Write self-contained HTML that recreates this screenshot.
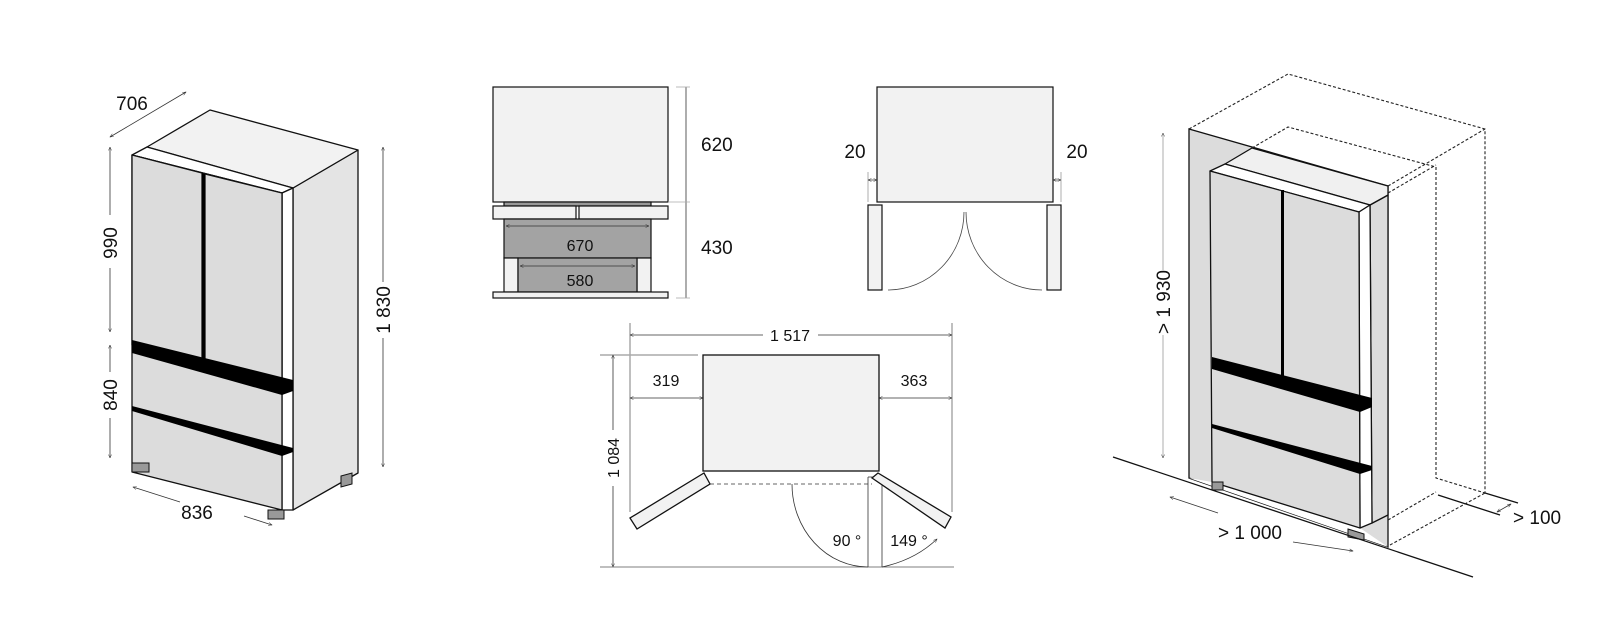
<!DOCTYPE html>
<html><head><meta charset="utf-8"><style>
html,body{margin:0;padding:0;background:#fff;}
svg{display:block;}
text{font-family:"Liberation Sans",sans-serif;fill:#111;}
</style></head><body>
<svg width="1600" height="644" viewBox="0 0 1600 644" xmlns="http://www.w3.org/2000/svg">
<defs>
<marker id="a" viewBox="0 0 10 10" refX="9" refY="5" markerWidth="5" markerHeight="5" orient="auto-start-reverse"><path d="M0,1 L9,5 L0,9" fill="none" stroke="#333" stroke-width="1.2"/></marker>
</defs>

<!-- ============ LEFT FRIDGE ============ -->
<g stroke="#111" stroke-width="1.3" stroke-linejoin="round">
<polygon points="293,188 358,150 358,473 293,510" fill="#e4e4e4"/>
<polygon points="147,147 210,110 358,150 293,188" fill="#f2f2f2"/>
<polygon points="132,155 147,147 293,188 282,193" fill="#fff"/>
<polygon points="282,193 293,188 293,510 282,510" fill="#fff"/>
<polygon points="132,155 282,193 282,510 132,472" fill="#dcdcdc"/>
<polygon points="132,155 202,173 202,363 132,345" fill="#dcdcdc"/>
<polygon points="205,174 282,193 282,385 205,365" fill="#dcdcdc"/>
</g>
<polygon points="132,340 293,380 293,391 282,395 132,353" fill="#000"/>
<polygon points="202,173 205,174 205,365 202,363" fill="#000"/>
<polygon points="132,406 293,448 293,452 282,456 132,411" fill="#000"/>
<rect x="132" y="463" width="17" height="9" fill="#999" stroke="#111"/>
<rect x="268" y="510" width="16" height="9" fill="#999" stroke="#111"/>
<polygon points="341,476 352,473 352,484 341,487" fill="#999" stroke="#111"/>

<g stroke="#333" stroke-width="0.8" fill="none">
<line x1="110" y1="137" x2="186" y2="92" marker-start="url(#a)" marker-end="url(#a)"/>
<line x1="110" y1="147" x2="110" y2="215" marker-start="url(#a)"/>
<line x1="110" y1="268" x2="110" y2="332" marker-end="url(#a)"/>
<line x1="110" y1="345" x2="110" y2="372" marker-start="url(#a)"/>
<line x1="110" y1="418" x2="110" y2="458" marker-end="url(#a)"/>
<line x1="383" y1="147" x2="383" y2="282" marker-start="url(#a)"/>
<line x1="383" y1="338" x2="383" y2="467" marker-end="url(#a)"/>
<line x1="133" y1="487" x2="180" y2="502" marker-start="url(#a)"/>
<line x1="244" y1="516" x2="272" y2="525" marker-end="url(#a)"/>
</g>
<text x="132" y="110" font-size="19" text-anchor="middle">706</text>
<text transform="translate(117,243) rotate(-90)" font-size="19" text-anchor="middle">990</text>
<text transform="translate(117,395) rotate(-90)" font-size="19" text-anchor="middle">840</text>
<text transform="translate(390,310) rotate(-90)" font-size="19" text-anchor="middle">1 830</text>
<text x="197" y="519" font-size="19" text-anchor="middle">836</text>

<!-- ============ MIDDLE TOP LEFT ============ -->
<g stroke="#111" stroke-width="1.2">
<rect x="493" y="87" width="175" height="115" fill="#f2f2f2"/>
<rect x="504" y="202" width="147" height="4" fill="#999"/>
<rect x="493" y="206" width="83" height="13" fill="#f2f2f2"/>
<rect x="579" y="206" width="89" height="13" fill="#f2f2f2"/>
<rect x="504" y="219" width="147" height="39" fill="#a3a3a3"/>
<rect x="504" y="258" width="14" height="34" fill="#f2f2f2"/>
<rect x="637" y="258" width="14" height="34" fill="#f2f2f2"/>
<rect x="518" y="258" width="119" height="34" fill="#a3a3a3"/>
<rect x="493" y="292" width="175" height="6" fill="#f2f2f2"/>
</g>
<g stroke="#333" stroke-width="0.8">
<line x1="506" y1="226" x2="649" y2="226" marker-start="url(#a)" marker-end="url(#a)"/>
<line x1="520" y1="266" x2="635" y2="266" marker-start="url(#a)" marker-end="url(#a)"/>
<line x1="686" y1="87" x2="686" y2="298"/>
<line x1="676" y1="87" x2="690" y2="87" stroke="#aaa"/>
<line x1="668" y1="202" x2="690" y2="202" stroke="#aaa"/>
<line x1="676" y1="298" x2="690" y2="298" stroke="#aaa"/>
</g>
<text x="580" y="251" font-size="16" text-anchor="middle">670</text>
<text x="580" y="286" font-size="16" text-anchor="middle">580</text>
<text x="701" y="151" font-size="19">620</text>
<text x="701" y="254" font-size="19">430</text>

<!-- ============ MIDDLE TOP RIGHT ============ -->
<g stroke="#111" stroke-width="1.2">
<rect x="877" y="87" width="176" height="115" fill="#f2f2f2"/>
<rect x="868" y="205" width="14" height="85" fill="#f2f2f2"/>
<rect x="1047" y="205" width="14" height="85" fill="#f2f2f2"/>
</g>
<g fill="none" stroke="#444" stroke-width="0.8">
<path d="M964,212 A76,78 0 0 1 888,290"/>
<path d="M966,212 A76,78 0 0 0 1042,290"/>
<line x1="868" y1="172" x2="868" y2="202" stroke="#999"/>
<line x1="1061" y1="172" x2="1061" y2="202" stroke="#999"/>
<line x1="868" y1="180" x2="877" y2="180" marker-start="url(#a)" marker-end="url(#a)"/>
<line x1="1053" y1="180" x2="1061" y2="180" marker-start="url(#a)" marker-end="url(#a)"/>
</g>
<text x="855" y="158" font-size="19" text-anchor="middle">20</text>
<text x="1077" y="158" font-size="19" text-anchor="middle">20</text>

<!-- ============ MIDDLE BOTTOM ============ -->
<g stroke="#aaa" stroke-width="1.5">
<line x1="630" y1="323" x2="630" y2="512"/>
<line x1="952" y1="323" x2="952" y2="512"/>
<line x1="600" y1="355" x2="698" y2="355"/>
</g>
<g stroke="#333" stroke-width="0.8" fill="none">
<line x1="630" y1="335" x2="763" y2="335" marker-start="url(#a)"/>
<line x1="818" y1="335" x2="952" y2="335" marker-end="url(#a)"/>
<line x1="630" y1="398" x2="703" y2="398" marker-start="url(#a)" marker-end="url(#a)"/>
<line x1="879" y1="398" x2="952" y2="398" marker-start="url(#a)" marker-end="url(#a)"/>
<line x1="613" y1="355" x2="613" y2="430" marker-start="url(#a)"/>
<line x1="613" y1="486" x2="613" y2="567" marker-end="url(#a)"/>
<line x1="600" y1="567" x2="954" y2="567" stroke="#555"/>
<line x1="710" y1="484" x2="872" y2="484" stroke-dasharray="4,3"/>
<path d="M792,484 A76,83 0 0 0 868,567"/>
<line x1="868" y1="477" x2="868" y2="567"/>
<line x1="882" y1="477" x2="882" y2="567"/>
<line x1="868" y1="477" x2="882" y2="477"/>
<path d="M882,567 Q915,560 937,539" marker-end="url(#a)"/>
</g>
<g stroke="#111" stroke-width="1.3">
<rect x="703" y="355" width="176" height="116" fill="#f2f2f2"/>
<polygon points="630,518 637,529 710,484 704,473" fill="#f2f2f2"/>
<polygon points="872,478 878,473 951,517 945,528" fill="#f2f2f2"/>
</g>
<text x="790" y="341" font-size="16" text-anchor="middle">1 517</text>
<text x="666" y="386" font-size="16" text-anchor="middle">319</text>
<text x="914" y="386" font-size="16" text-anchor="middle">363</text>
<text transform="translate(619,458) rotate(-90)" font-size="16" text-anchor="middle">1 084</text>
<text x="847" y="546" font-size="16" text-anchor="middle">90 °</text>
<text x="909" y="546" font-size="16" text-anchor="middle">149 °</text>

<!-- ============ RIGHT FIGURE ============ -->
<polygon points="1189,129 1388,186 1388,547 1189,478" fill="#dcdcdc" stroke="#111" stroke-width="1.3"/>
<polygon points="1212,482 1360,528 1388,547 1189,478" fill="#fff"/>
<g stroke="#111" stroke-width="1.3" stroke-linejoin="round">
<polygon points="1370,205 1388,195 1388,515 1372,523" fill="#dcdcdc"/>
<polygon points="1225,164 1252,148 1388,186 1388,195 1370,205" fill="#f0f0f0"/>
<polygon points="1210,171 1225,164 1370,205 1359,212" fill="#fff"/>
<polygon points="1359,212 1370,205 1372,523 1360,528" fill="#fff"/>
<polygon points="1210,171 1359,212 1360,528 1212,482" fill="#dcdcdc"/>
</g>
<polygon points="1281,190 1284,190 1284,380 1281,378" fill="#000"/>
<polygon points="1212,357 1372,398 1372,407 1360,412 1212,369" fill="#000"/>
<polygon points="1212,424 1372,466 1372,470 1360,474 1212,428" fill="#000"/>
<rect x="1212" y="482" width="11" height="8" fill="#999" stroke="#111"/>
<polygon points="1348,529 1364,534 1364,540 1348,537" fill="#999" stroke="#111"/>
<g stroke="#111" stroke-width="1.3">
<line x1="1113" y1="457" x2="1473" y2="577"/>
<line x1="1438" y1="495" x2="1500" y2="515"/>
<line x1="1485" y1="493" x2="1518" y2="503"/>
</g>
<g stroke="#222" stroke-width="1.1" fill="none" stroke-dasharray="3,2">
<polyline points="1189,129 1288,74 1485,129 1485,493"/>
<line x1="1388" y1="186" x2="1485" y2="129"/>
<polyline points="1252,148 1288,127 1436,167 1436,478 1485,493"/>
<line x1="1388" y1="193" x2="1436" y2="165"/>
<line x1="1388" y1="520" x2="1436" y2="492"/>
<line x1="1390" y1="545" x2="1485" y2="493"/>
</g>
<g stroke="#333" stroke-width="0.8">
<line x1="1163" y1="133" x2="1163" y2="270" stroke="#999" marker-start="url(#a)"/>
<line x1="1163" y1="335" x2="1163" y2="458" stroke="#999" marker-end="url(#a)"/>
<line x1="1170" y1="497" x2="1218" y2="513" marker-start="url(#a)"/>
<line x1="1293" y1="542" x2="1353" y2="551" marker-end="url(#a)"/>
<line x1="1497" y1="512" x2="1511" y2="504" marker-start="url(#a)" marker-end="url(#a)"/>
</g>
<text transform="translate(1170,302) rotate(-90)" font-size="19" text-anchor="middle">&gt; 1 930</text>
<text x="1250" y="539" font-size="19" text-anchor="middle">&gt; 1 000</text>
<text x="1513" y="524" font-size="19">&gt; 100</text>
</svg>
</body></html>
